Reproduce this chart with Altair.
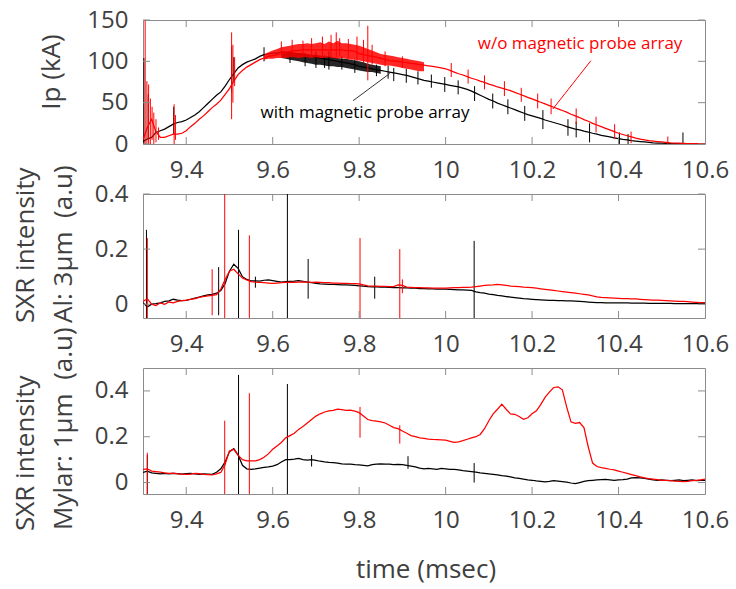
import altair as alt
import pandas as pd

# ---------------- data ----------------
T = [round(9.30 + 0.01 * i, 2) for i in range(131)]  # msec sampling grid

IP_WITH = [3, 6, 8, 14, 16, 18, 21, 24, 26, 27,
           29, 32, 35, 39, 44, 49, 54, 59, 63, 70,
           78, 85, 92, 96, 99, 101, 103, 106, 108, 109,
           110, 110, 111, 111, 110, 109, 108, 108, 107, 106,
           105, 104, 103, 102, 101, 100, 99, 98, 97, 96,
           94, 93, 92, 91, 90, 89, 88, 87, 86, 85,
           84, 83, 81.5, 80, 78.5, 77, 76, 75, 74, 73,
           72, 71, 70, 69, 67.5, 66, 64, 61.5, 59, 56.5,
           54, 52, 49.5, 47.5, 45.5, 43.5, 41.5, 39.5, 37.5, 35.5,
           34, 32.5, 31, 29, 27.5, 26, 24.5, 23, 21, 19.5,
           18, 17, 15.5, 14.5, 13, 12, 10.5, 9.5, 8.5, 7.5,
           6.5, 5.5, 5, 4, 3.5, 3, 2.5, 2, 1.5, 1.2,
           1, 0.8, 0.6, 0.5, 0.5, 0.5, 0.5, 0.5, 0.5, 0.5,
           0.5]
IP_WO = [5, 20, 30, 15, 8, 8, 10, 12, 12, 13,
         16, 21, 25, 30, 34, 39, 44, 48, 53, 60,
         67, 76, 84, 89, 93, 96, 99, 102, 104, 106,
         107, 108, 109, 111, 112, 113, 113, 114, 114, 114,
         114, 114, 114, 114, 114, 114, 114, 113, 113, 112,
         109, 108, 107, 106, 105, 103.5, 102, 101, 100.5, 100,
         99, 98.3, 97.5, 96.8, 96, 95.3, 94.5, 93.8, 93, 92,
         91, 89, 87, 85, 83.5, 81.5, 79.5, 78, 76, 74.5,
         72.5, 71, 69, 67.5, 66, 64.5, 62.5, 60.5, 58.5, 56.5,
         54.5, 52.5, 50.5, 48.5, 46.5, 44.5, 42.5, 40.5, 38.5, 36,
         34, 32, 29.5, 27.5, 25, 23, 21, 19, 17, 15,
         13, 11.5, 10, 8.5, 7, 6, 5, 4, 3.5, 3,
         2.5, 2, 1.5, 1.2, 1, 0.8, 0.6, 0.5, 0.5, 0.5,
         0.5]

# noisy envelope of the two Ip traces around the flat top
BAND_WO_T = [9.58, 9.59, 9.60, 9.61, 9.62, 9.63, 9.64, 9.65, 9.66, 9.67,
             9.68, 9.69, 9.70, 9.71, 9.72, 9.73, 9.74, 9.75, 9.76, 9.77,
             9.78, 9.79, 9.80, 9.81, 9.82, 9.83, 9.84, 9.85, 9.86, 9.87,
             9.88, 9.89, 9.90, 9.91, 9.92, 9.93, 9.94, 9.95]
BAND_WO_LO = [102, 103, 103, 104, 104, 104, 105, 105, 104, 105,
              105, 104, 105, 104, 104, 105, 104, 103, 104, 103,
              102, 102, 101, 100, 99, 98, 97, 96, 95, 95,
              94, 93, 92, 91, 90, 89, 88, 88]
BAND_WO_HI = [108, 111, 113, 115, 117, 118, 119, 120, 121, 121,
              122, 121, 122, 123, 121, 124, 122, 125, 122, 122,
              121, 120, 119, 117, 115, 113, 111, 109, 108, 107,
              106, 105, 104, 103, 102, 101, 100, 99]
BAND_WITH_T = [9.62, 9.63, 9.64, 9.65, 9.66, 9.67, 9.68, 9.69, 9.70, 9.71,
               9.72, 9.73, 9.74, 9.75, 9.76, 9.77, 9.78, 9.79, 9.80, 9.81,
               9.82, 9.83, 9.84, 9.85]
BAND_WITH_LO = [104, 103, 102, 101, 100, 99, 98, 97, 96, 96,
                95, 94, 94, 93, 93, 92, 91, 90, 89, 88, 87, 87, 86, 85]
BAND_WITH_HI = [112, 112, 111, 111, 110, 110, 109, 108, 108, 107,
                106, 106, 105, 104, 103, 103, 102, 101, 100, 99, 97, 96, 95, 94]

SPK_IP_WITH_T = [9.302, 9.312, 9.371, 9.505, 9.51, 9.58, 9.64, 9.675, 9.70, 9.72,
                 9.73, 9.76, 9.79, 9.84, 9.867, 9.88, 9.909, 9.936, 9.967, 9.998,
                 10.029, 10.067, 10.109, 10.144, 10.183, 10.225, 10.283, 10.302, 10.333, 10.402,
                 10.422, 10.549]
SPK_IP_WITH_LO = [0, 5, 12, 62, 75, 100, 98, 94, 92, 92,
                  90, 90, 86, 82, 79, 76, 74, 72, 68, 63,
                  60, 52, 43, 36, 28, 18, 10, 8, 2, 0,
                  0, 0]
SPK_IP_WITH_HI = [104, 60, 45, 118, 105, 117, 112, 110, 112, 108,
                  112, 106, 102, 96, 95, 92, 91, 88, 84, 81,
                  77, 70, 61, 54, 46, 41, 30, 27, 25, 14,
                  12, 14]
SPK_IP_WO_T = [9.305, 9.309, 9.313, 9.317, 9.321, 9.325, 9.33, 9.336, 9.372, 9.375,
               9.505, 9.508, 9.512, 9.62, 9.645, 9.67, 9.69, 9.715, 9.735, 9.747,
               9.755, 9.775, 9.795, 9.81, 9.82, 9.83, 9.86, 9.9, 10.013, 10.052,
               10.09, 10.136, 10.175, 10.213, 10.244, 10.302, 10.348, 10.391, 10.429, 10.514]
SPK_IP_WO_LO = [0, 0, 0, 0, 5, 0, 2, 5, 0, 5,
                30, 50, 70, 112, 110, 108, 105, 106, 104, 105,
                106, 104, 100, 98, 77, 96, 94, 92, 81, 73,
                66, 58, 51, 43, 36, 24, 14, 6, 1, 0]
SPK_IP_WO_HI = [150, 76, 72, 55, 45, 38, 30, 20, 48, 35,
                135, 120, 105, 124, 126, 125, 128, 130, 132, 135,
                128, 127, 130, 126, 143, 120, 112, 106, 98, 90,
                83, 76, 68, 61, 55, 43, 33, 24, 15, 9]

AL_WITH = [0.006, -0.01, 0.0, 0.002, 0.005, 0.01, 0.012, 0.018, 0.015, 0.013,
           0.014, 0.018, 0.022, 0.026, 0.03, 0.034, 0.036, 0.04, 0.05, 0.075,
           0.12, 0.145, 0.13, 0.1, 0.09, 0.085, 0.085, 0.084, 0.087, 0.088,
           0.086, 0.083, 0.08, 0.082, 0.083, 0.084, 0.086, 0.083, 0.08, 0.078,
           0.076, 0.074, 0.073, 0.072, 0.072, 0.071, 0.07, 0.07, 0.069, 0.068,
           0.067, 0.066, 0.064, 0.063, 0.063, 0.062, 0.062, 0.061, 0.06, 0.06,
           0.059, 0.059, 0.058, 0.058, 0.057, 0.057, 0.056, 0.056, 0.055, 0.055,
           0.055, 0.054, 0.053, 0.052, 0.052, 0.051, 0.05, 0.045, 0.042, 0.04,
           0.037, 0.035, 0.032, 0.03, 0.028, 0.026, 0.024, 0.022, 0.02, 0.019,
           0.018, 0.017, 0.016, 0.015, 0.014, 0.014, 0.013, 0.013, 0.012, 0.012,
           0.011, 0.01, 0.009, 0.008, 0.007, 0.006, 0.006, 0.005, 0.005, 0.005,
           0.005, 0.005, 0.005, 0.004, 0.004, 0.004, 0.004, 0.003, 0.003, 0.003,
           0.003, 0.003, 0.003, 0.002, 0.002, 0.002, 0.002, 0.002, 0.002, 0.002,
           0.002]
AL_WO = [0.01, 0.02, 0.0, -0.005, 0.005, 0.0, 0.008, 0.005, 0.01, 0.013,
         0.015, 0.018, 0.02, 0.025, 0.028, 0.03, 0.032, 0.035, 0.055, 0.09,
         0.12, 0.127, 0.11, 0.095, 0.088, 0.082, 0.08, 0.079, 0.078, 0.077,
         0.076, 0.077, 0.078, 0.079, 0.08, 0.079, 0.08, 0.081, 0.08, 0.079,
         0.08, 0.079, 0.078, 0.078, 0.077, 0.077, 0.076, 0.076, 0.075, 0.075,
         0.074, 0.07, 0.067, 0.066, 0.066, 0.065, 0.065, 0.064, 0.064, 0.07,
         0.068, 0.062, 0.061, 0.06, 0.06, 0.059, 0.059, 0.058, 0.058, 0.058,
         0.058, 0.059, 0.06, 0.06, 0.061, 0.061, 0.062, 0.064, 0.066, 0.068,
         0.069, 0.07, 0.072, 0.07, 0.068, 0.066, 0.065, 0.064, 0.062, 0.061,
         0.06, 0.058, 0.056, 0.054, 0.052, 0.05, 0.048, 0.046, 0.044, 0.042,
         0.04, 0.038, 0.036, 0.034, 0.03, 0.027, 0.025, 0.024, 0.023, 0.022,
         0.021, 0.02, 0.02, 0.019, 0.019, 0.018, 0.017, 0.016, 0.015, 0.015,
         0.014, 0.013, 0.012, 0.011, 0.01, 0.01, 0.009, 0.008, 0.007, 0.006,
         0.006]
SPK_AL_WITH_T = [9.308, 9.475, 9.521, 9.56, 9.634, 9.682, 9.836, 10.066]
SPK_AL_WITH_LO = [-0.05, -0.04, -0.05, 0.06, -0.05, 0.02, 0.02, -0.05]
SPK_AL_WITH_HI = [0.27, 0.135, 0.27, 0.1, 0.4, 0.164, 0.1, 0.23]
SPK_AL_WO_T = [9.31, 9.46, 9.489, 9.546, 9.802, 9.894, 9.9]
SPK_AL_WO_LO = [-0.05, -0.04, -0.05, -0.05, -0.05, -0.05, 0.04]
SPK_AL_WO_HI = [0.24, 0.127, 0.4, 0.25, 0.24, 0.2, 0.09]

MY_WITH = [0.044, 0.05, 0.042, 0.04, 0.038, 0.04, 0.038, 0.04, 0.039, 0.037,
           0.039, 0.04, 0.038, 0.036, 0.038, 0.037, 0.036, 0.045, 0.06, 0.09,
           0.135, 0.148, 0.12, 0.075, 0.06, 0.058, 0.06, 0.063, 0.066, 0.068,
           0.072, 0.078, 0.09, 0.1, 0.1, 0.102, 0.105, 0.1, 0.098, 0.1,
           0.097, 0.093, 0.09, 0.088, 0.087, 0.085, 0.082, 0.08, 0.08, 0.078,
           0.077, 0.075, 0.073, 0.078, 0.08, 0.082, 0.08, 0.08, 0.078, 0.079,
           0.078, 0.075, 0.072, 0.068, 0.063, 0.06, 0.062, 0.06, 0.058, 0.062,
           0.06, 0.058, 0.057, 0.055, 0.052, 0.05, 0.048, 0.045, 0.042, 0.04,
           0.038, 0.036, 0.033, 0.03, 0.028, 0.025, 0.02, 0.018, 0.015, 0.012,
           0.01, 0.007, 0.005, 0.003, 0.005, 0.008, 0.006, 0.004, 0.002, -0.002,
           -0.005, 0.0, 0.005, 0.008, 0.01, 0.012, 0.013, 0.014, 0.012, 0.01,
           0.012, 0.013, 0.015, 0.02, 0.022, 0.02, 0.018, 0.015, 0.012, 0.01,
           0.012, 0.01, 0.008, 0.01, 0.012, 0.008, 0.01, 0.012, 0.008, 0.01,
           0.01]
MY_WO = [0.058, 0.06, 0.05, 0.048, 0.045, 0.042, 0.04, 0.041, 0.038, 0.037,
         0.036, 0.037, 0.04, 0.039, 0.036, 0.035, 0.033, 0.038, 0.044, 0.08,
         0.138, 0.145, 0.12, 0.1, 0.095, 0.095, 0.095, 0.1, 0.11, 0.125,
         0.145, 0.16, 0.175, 0.195, 0.205, 0.215, 0.232, 0.245, 0.26, 0.275,
         0.29, 0.3, 0.308, 0.313, 0.315, 0.32, 0.318, 0.315, 0.316, 0.312,
         0.305, 0.29, 0.275, 0.27, 0.268, 0.265, 0.26, 0.25, 0.24, 0.235,
         0.225, 0.215, 0.205, 0.2, 0.195, 0.193, 0.19, 0.188, 0.187, 0.186,
         0.185, 0.18, 0.175, 0.178, 0.183, 0.189, 0.195, 0.2, 0.21, 0.235,
         0.27, 0.3, 0.32, 0.342, 0.32, 0.3, 0.298, 0.288, 0.276, 0.283,
         0.3, 0.313, 0.34, 0.372, 0.395, 0.415, 0.418, 0.405, 0.33, 0.265,
         0.258, 0.262, 0.24, 0.155, 0.085, 0.07, 0.065, 0.062, 0.058, 0.055,
         0.05, 0.045, 0.04, 0.035, 0.03, 0.025, 0.02, 0.017, 0.015, 0.013,
         0.01, 0.01, 0.008, 0.006, 0.005, 0.004, 0.005, 0.008, 0.01, 0.012,
         0.015]
SPK_MY_WITH_T = [9.31, 9.521, 9.634, 9.69, 9.913, 10.066]
SPK_MY_WITH_LO = [-0.05, -0.05, -0.05, 0.07, 0.06, 0.0]
SPK_MY_WITH_HI = [0.12, 0.47, 0.43, 0.12, 0.115, 0.085]
SPK_MY_WO_T = [9.31, 9.489, 9.546, 9.802, 9.894]
SPK_MY_WO_LO = [-0.05, -0.05, -0.05, 0.196, 0.17]
SPK_MY_WO_HI = [0.13, 0.27, 0.39, 0.33, 0.25]

X_LABELS = [9.4, 9.6, 9.8, 10.0, 10.2, 10.4, 10.6]
X_INNER = [9.4, 9.6, 9.8, 10.0, 10.2, 10.4]
IP_TICKS = [0, 50, 100, 150]
SXR_TICKS = [0, 0.2, 0.4]

NB = "\u00a0"
TITLE_IP = ["Ip (kA)"]
TITLE_AL = ["SXR intensity", "Al: 3μm" + NB + NB + "(a.u)"]
TITLE_MY = ["SXR intensity", "Mylar: 1μm" + NB + NB + "(a.u)"]
TITLE_X = ["time (msec)"]

ANN_T = [10.311, 9.8135]
ANN_V = [121.3, 37.9]
ANN_TEXT = ["w/o magnetic probe array", "with magnetic probe array"]
PTR_T = [10.336, 9.786]
PTR_V = [100.8, 52.4]
PTR_T2 = [10.248, 9.871]
PTR_V2 = [42.3, 85.4]

# ---------------- styling ----------------
FONT = "Open Sans"
TXT = "#404040"
FRAME = "#8c8c8c"
RED = "#ff0000"
W = 562
XDOM = [9.3, 10.6]
LW = 1.25


def text_layer(s, x, y, align="center", angle=270, size=26):
    return (alt.Chart(pd.DataFrame({"s": [s]}))
            .mark_text(font=FONT, fontSize=size, color=TXT, align=align,
                       baseline="alphabetic", angle=angle)
            .encode(text="s:N", x=alt.value(x), y=alt.value(y)))


def panel(h, ydom, yticks, titles, s_with, s_wo, spk_with, spk_wo,
          xtitle=False, bands=None, annot=False):
    xs = alt.Scale(domain=XDOM, nice=False, zero=False)
    ys = alt.Scale(domain=ydom, nice=False, zero=False)
    XA = alt.Axis(values=X_LABELS, format="~r", labelFlush=False, labelOverlap=False,
                  labelPadding=14, ticks=False, domain=False, grid=False, title=None)
    YA = alt.Axis(values=yticks, format="~r", labelFlush=False, labelOverlap=False,
                  labelPadding=15, ticks=False, domain=False, grid=False, title=None)

    def X(field="t"):
        return alt.X(f"{field}:Q", scale=xs, axis=XA)

    def Y(field="v"):
        return alt.Y(f"{field}:Q", scale=ys, axis=YA)

    layers = []
    layers.append(alt.Chart(pd.DataFrame({"t": T, "v": s_with}))
                  .mark_line(color="black", strokeWidth=LW, clip=True)
                  .encode(x=X(), y=Y()))
    if bands:
        bt, blo, bhi = bands[0]
        layers.append(alt.Chart(pd.DataFrame({"t": bt, "v": blo, "hi": bhi}))
                      .mark_area(color="black", opacity=0.85, clip=True)
                      .encode(x=X(), y=Y(), y2="hi:Q"))
    st, slo, shi = spk_with
    layers.append(alt.Chart(pd.DataFrame({"t": st, "v": slo, "hi": shi}))
                  .mark_rule(color="black", strokeWidth=1, clip=True)
                  .encode(x=X(), y=Y(), y2="hi:Q"))
    if bands:
        bt, blo, bhi = bands[1]
        layers.append(alt.Chart(pd.DataFrame({"t": bt, "v": blo, "hi": bhi}))
                      .mark_area(color=RED, opacity=0.85, clip=True)
                      .encode(x=X(), y=Y(), y2="hi:Q"))
    layers.append(alt.Chart(pd.DataFrame({"t": T, "v": s_wo}))
                  .mark_line(color=RED, strokeWidth=LW, clip=True)
                  .encode(x=X(), y=Y()))
    st, slo, shi = spk_wo
    layers.append(alt.Chart(pd.DataFrame({"t": st, "v": slo, "hi": shi}))
                  .mark_rule(color=RED, strokeWidth=1, clip=True)
                  .encode(x=X(), y=Y(), y2="hi:Q"))
    # inward ticks
    xt = pd.DataFrame({"t": X_INNER})
    layers.append(alt.Chart(xt).mark_rule(color=FRAME, strokeWidth=1)
                  .encode(x=X(), y=alt.value(0), y2=alt.value(7)))
    layers.append(alt.Chart(xt).mark_rule(color=FRAME, strokeWidth=1)
                  .encode(x=X(), y=alt.value(h - 7), y2=alt.value(h)))
    yt = pd.DataFrame({"v": yticks})
    layers.append(alt.Chart(yt).mark_rule(color=FRAME, strokeWidth=1)
                  .encode(y=Y(), x=alt.value(0), x2=alt.value(7)))
    layers.append(alt.Chart(yt).mark_rule(color=FRAME, strokeWidth=1)
                  .encode(y=Y(), x=alt.value(W - 7), x2=alt.value(W)))
    if annot:
        ptr = pd.DataFrame({"t": PTR_T, "v": PTR_V, "t2": PTR_T2, "v2": PTR_V2})
        layers.append(alt.Chart(ptr.iloc[[0]]).mark_rule(color=RED, strokeWidth=1)
                      .encode(x=X(), y=Y(), x2="t2:Q", y2="v2:Q"))
        layers.append(alt.Chart(ptr.iloc[[1]]).mark_rule(color="#333333", strokeWidth=1)
                      .encode(x=X(), y=Y(), x2="t2:Q", y2="v2:Q"))
        ann = pd.DataFrame({"t": ANN_T, "v": ANN_V, "s": ANN_TEXT})
        layers.append(alt.Chart(ann.iloc[[0]]).mark_text(font=FONT, fontSize=17, color=RED,
                                                         align="center", baseline="middle")
                      .encode(x=X(), y=Y(), text="s:N"))
        layers.append(alt.Chart(ann.iloc[[1]]).mark_text(font=FONT, fontSize=17, color="black",
                                                         align="center", baseline="middle")
                      .encode(x=X(), y=Y(), text="s:N"))
    # axis titles as text
    for s, x, y, al in titles:
        layers.append(text_layer(s, x, y, align=al))
    if xtitle:
        layers.append(text_layer(TITLE_X[0], W / 2 + 2, h + 83.5, angle=0))
    return alt.layer(*layers).properties(width=W, height=h)


p1 = panel(124, [0, 150], IP_TICKS,
           [(TITLE_IP[0], -83, 52, "center")],
           IP_WITH, IP_WO,
           (SPK_IP_WITH_T, SPK_IP_WITH_LO, SPK_IP_WITH_HI),
           (SPK_IP_WO_T, SPK_IP_WO_LO, SPK_IP_WO_HI),
           bands=[(BAND_WITH_T, BAND_WITH_LO, BAND_WITH_HI),
                  (BAND_WO_T, BAND_WO_LO, BAND_WO_HI)],
           annot=True)
p2 = panel(124, [-0.05, 0.4], SXR_TICKS,
           [(TITLE_AL[0], -109.5, 129, "left"), (TITLE_AL[1], -71.5, 129, "left")],
           AL_WITH, AL_WO,
           (SPK_AL_WITH_T, SPK_AL_WITH_LO, SPK_AL_WITH_HI),
           (SPK_AL_WO_T, SPK_AL_WO_LO, SPK_AL_WO_HI))
p3 = panel(126, [-0.05, 0.5], SXR_TICKS,
           [(TITLE_MY[0], -109.5, 163, "left"), (TITLE_MY[1], -71.5, 162, "left")],
           MY_WITH, MY_WO,
           (SPK_MY_WITH_T, SPK_MY_WITH_LO, SPK_MY_WITH_HI),
           (SPK_MY_WO_T, SPK_MY_WO_LO, SPK_MY_WO_HI),
           xtitle=True)

chart = (alt.vconcat(p1, p2, p3, spacing=50, bounds="flush")
         .properties(padding={"left": 12, "top": 7, "right": 0, "bottom": 5},
                     background="white")
         .configure_view(stroke=FRAME, strokeWidth=1)
         .configure_axis(labelFont=FONT, labelFontSize=24, labelColor=TXT,
                         titleFont=FONT, titleFontSize=26, titleColor=TXT,
                         titleFontWeight="normal"))

chart.save("out.html", embed_options={"renderer": "svg", "actions": False})
